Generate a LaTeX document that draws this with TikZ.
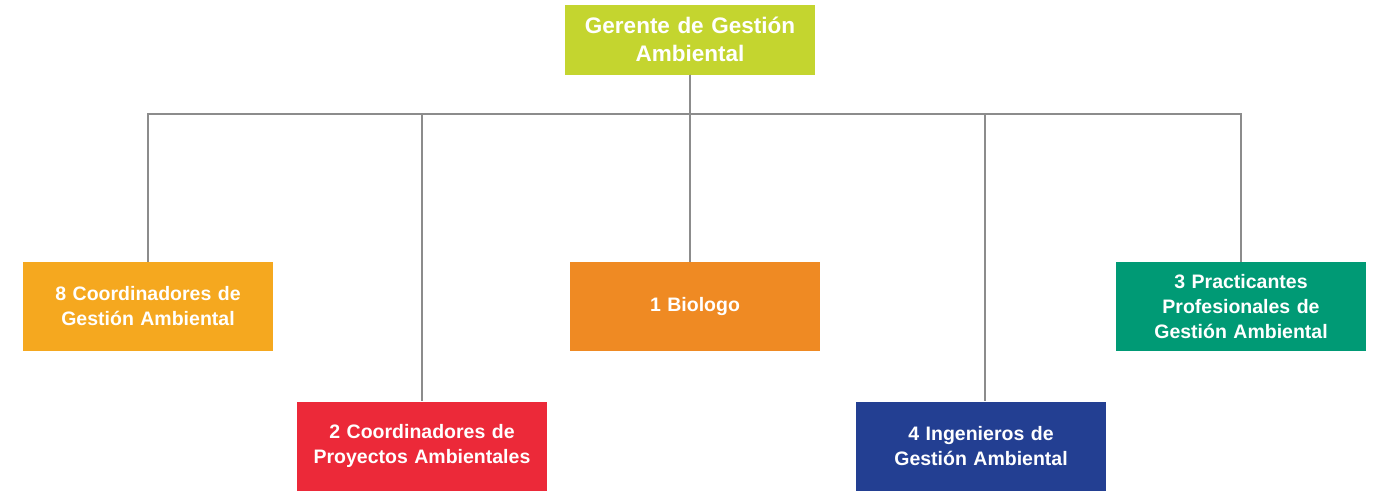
\documentclass[tikz,border=0pt]{standalone}
\usepackage{fontspec}
\setmainfont{Liberation Sans}
\usepackage{tikz}

\definecolor{lima}{HTML}{C4D52F}
\definecolor{ambar}{HTML}{F5A81F}
\definecolor{rojo}{HTML}{EC2939}
\definecolor{naranja}{HTML}{EF8A23}
\definecolor{azul}{HTML}{233F92}
\definecolor{verde}{HTML}{009A75}
\definecolor{linea}{HTML}{8C8C8C}

\tikzset{
    cargo/.style={fill=#1, text=white, font=\bfseries\fontsize{19.5}{25}\selectfont,
        minimum width=250pt, minimum height=89pt, text width=240pt, align=center, inner sep=0pt},
    enlace/.style={draw=linea, line width=2pt}
}

\begin{document}
\begin{tikzpicture}[x=1pt,y=-1pt]
    \useasboundingbox (0,0) rectangle (1382,491);

    \node [cargo=lima, minimum height=70pt, font=\bfseries\fontsize{22.5}{28}\selectfont] (ger) at (690,39.5) {Gerente de Gestión\\Ambiental};

    \node [cargo=ambar] (coord) at (148,306.5) {8 Coordinadores de\\Gestión Ambiental};
    \node [cargo=rojo] (proy) at (422,446) {2 Coordinadores de\\Proyectos Ambientales};
    \node [cargo=naranja] (bio) at (695,306.5) {1 Biologo};
    \node [cargo=azul] (ing) at (981,446) {4 Ingenieros de\\Gestión Ambiental};
    \node [cargo=verde] (prac) at (1241,306.5) {3 Practicantes\\Profesionales de\\Gestión Ambiental};

    \draw [enlace] (ger.south) -- ++(0,39) -| (coord.north);
    \draw [enlace] (ger.south) -- ++(0,39) -| (proy.north);
    \draw [enlace] (ger.south) -- (ger.south |- bio.north);
    \draw [enlace] (ger.south) -- ++(0,39) -| ([xshift=4pt]ing.north);
    \draw [enlace] (ger.south) -- ++(0,39) -| (prac.north);

\end{tikzpicture}
\end{document}
